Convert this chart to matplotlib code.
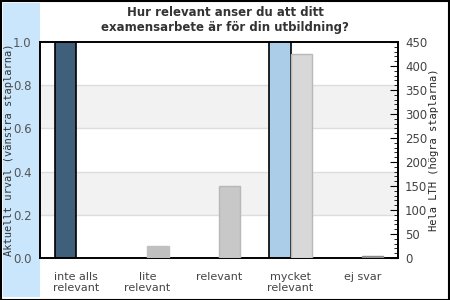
import matplotlib
matplotlib.use("Agg")
import matplotlib.pyplot as plt
from matplotlib.patches import Rectangle
import numpy as np

categories = ["inte alls\nrelevant", "lite\nrelevant", "relevant", "mycket\nrelevant", "ej svar"]
left_values = [1.0, 0.0, 0.0, 1.0, 0.0]          # Aktuellt urval (share)
left_colors = ["#405f7a", "#405f7a", "#405f7a", "#abcde8", "#405f7a"]
right_values = [0, 25, 150, 424, 4]              # Hela LTH (count)
right_colors = ["#c0c0c0", "#c0c0c0", "#c8c8c8", "#d8d8d8", "#999999"]
right_edges = ["#c0c0c0", "#c0c0c0", "#b8b8b8", "#b8b8b8", "#888888"]
left_ticks = [0.0, 0.2, 0.4, 0.6, 0.8, 1.0]
right_ticks = list(range(0, 451, 50))

W, H = 450, 300
fig = plt.figure(figsize=(4.5, 3), dpi=100)
fig.patches.append(Rectangle((3 / W, 3 / H), 37 / W, 294 / H, transform=fig.transFigure,
                             facecolor="#c9e6fc", edgecolor="none", zorder=-5))
fig.patches.append(Rectangle((0.5 / W, 0.5 / H), 1 - 1.5 / W, 1 - 1.5 / H, transform=fig.transFigure,
                             fill=False, edgecolor="black", lw=1.5, zorder=10))

ax = fig.add_axes([40 / W, (H - 258) / H, 358 / W, 216 / H])
ax.set_xlim(-0.5, 4.5)
ax.set_ylim(0, 1.0)
x = np.arange(len(categories))
bw = 0.295

# background bands and grid
for lo, hi in [(0.2, 0.4), (0.6, 0.8)]:
    ax.axhspan(lo, hi, color="#f2f2f2", zorder=0, lw=0)
for t in left_ticks[1:-1]:
    ax.axhline(t, color="#dddddd", lw=1, zorder=0.5)

for xi, v, c in zip(x, left_values, left_colors):
    if v > 0:
        ax.bar(xi - bw / 2, v, width=bw, color=c, edgecolor="black", lw=1.2, zorder=3)

ax.set_yticks(left_ticks)
ax.set_yticklabels([f"{t:.1f}" for t in left_ticks])
ax.tick_params(axis="y", length=0, labelsize=8.5, labelcolor="#555555", pad=6)
ax.set_xticks(x)
ax.set_xticklabels(categories)
ax.tick_params(axis="x", length=0, labelsize=8, labelcolor="#444444", pad=10)
for lbl in ax.get_xticklabels():
    lbl.set_verticalalignment("top")
    lbl.set_linespacing(1.1)
for s in ax.spines.values():
    s.set_color("black")
    s.set_linewidth(1.2)

ax2 = ax.twinx()
ax2.set_ylim(0, 450)
for xi, v, c, e in zip(x, right_values, right_colors, right_edges):
    if v > 0:
        ax2.bar(xi + bw / 2, v, width=bw, color=c, edgecolor=e, lw=1, zorder=3)
ax2.set_yticks(right_ticks)
ax2.set_yticks(list(range(0, 451, 10)), minor=True)
ax2.tick_params(axis="y", which="major", direction="in", length=6, width=0.8,
                labelsize=8.5, labelcolor="#444444", pad=5)
ax2.tick_params(axis="y", which="minor", direction="in", length=3, width=0.6)
for s in ax2.spines.values():
    s.set_color("black")
    s.set_linewidth(1.2)

fig.text(225 / W, 1 - 12 / H, "Hur relevant anser du att ditt", ha="center", va="center",
         fontsize=8.5, fontweight="bold", color="#333333")
fig.text(225 / W, 1 - 27 / H, "examensarbete är för din utbildning?", ha="center", va="center",
         fontsize=8.5, fontweight="bold", color="#333333")
fig.text(9 / W, 1 - 150 / H, "Aktuellt urval (vänstra staplarna)", rotation=90, ha="center",
         va="center", fontsize=7.5, family="DejaVu Sans Mono", color="#333333")
fig.text(434 / W, 1 - 150 / H, "Hela LTH (högra staplarna)", rotation=90, ha="center",
         va="center", fontsize=7.5, family="DejaVu Sans Mono", color="#222222")

fig.savefig("out.png", dpi=100)
